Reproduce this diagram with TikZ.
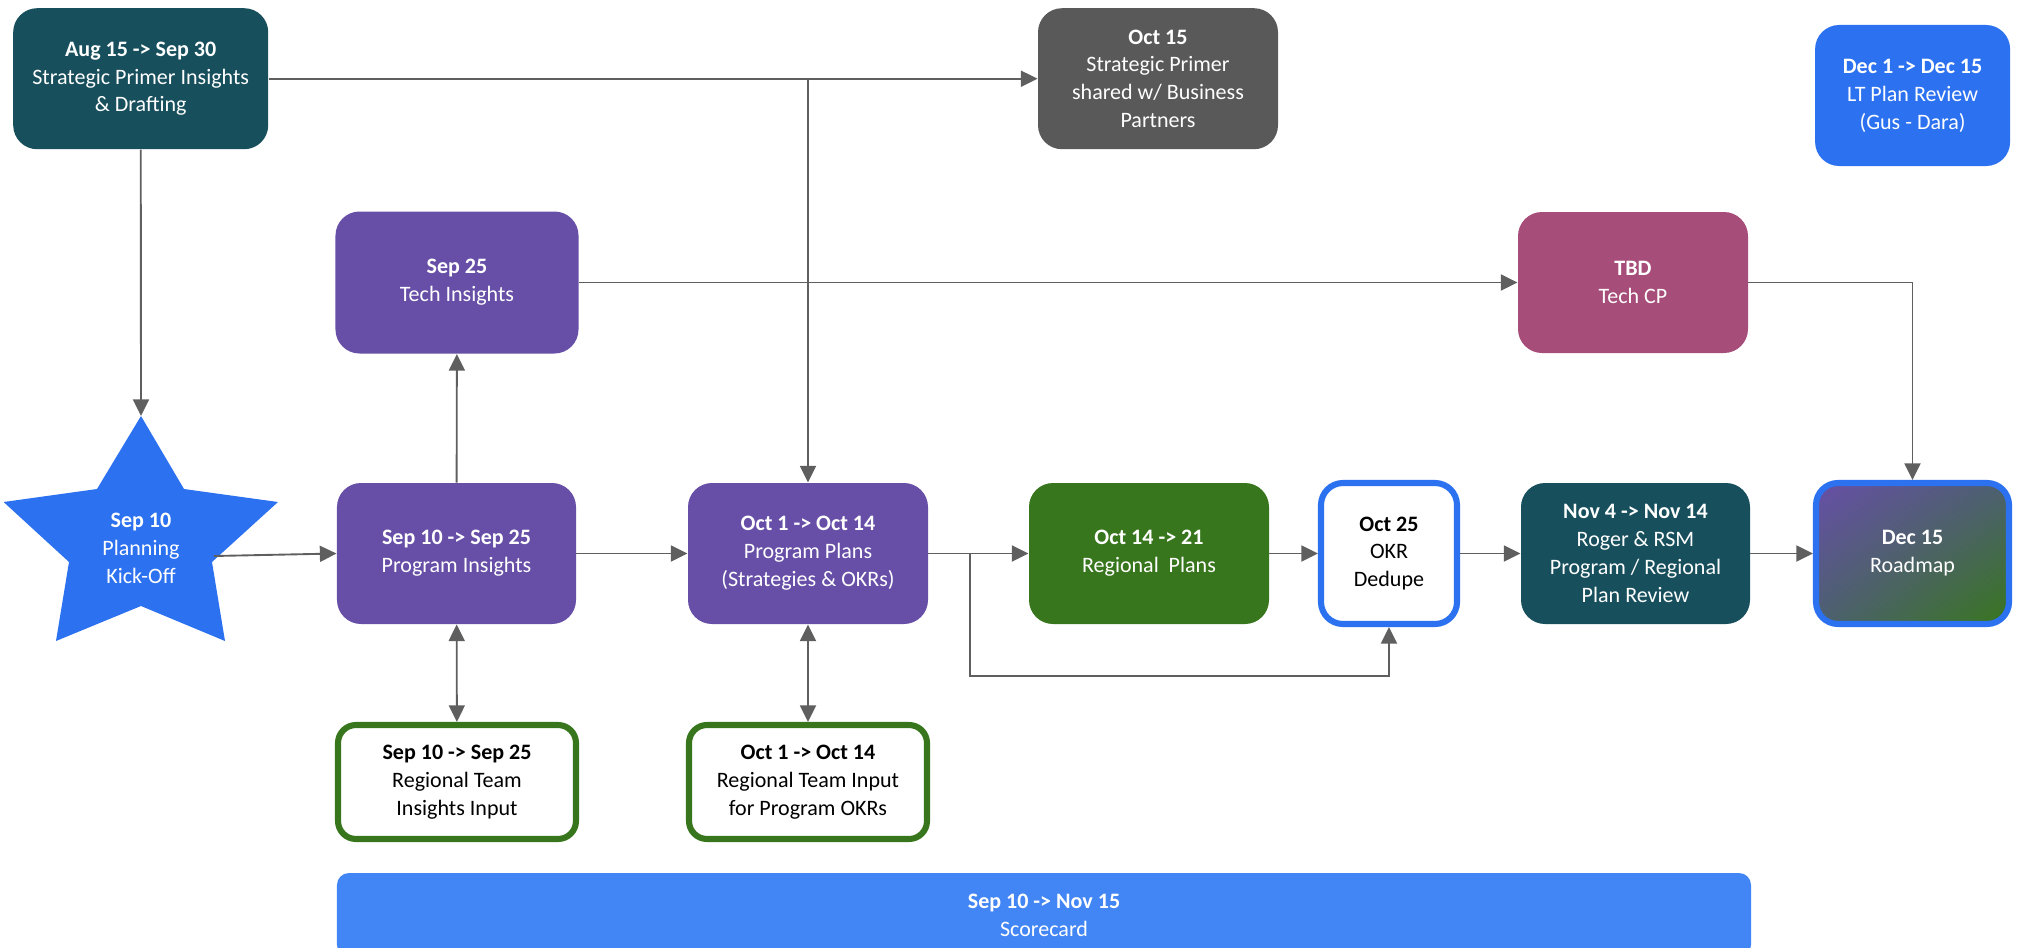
\documentclass[tikz,border=0pt]{standalone}
\usepackage{fontspec}
\setmainfont{Carlito}
\usetikzlibrary{arrows.meta,shadings}

\definecolor{primerteal}{RGB}{23,79,92}
\definecolor{sharegray}{RGB}{89,89,89}
\definecolor{kickblue}{RGB}{44,113,240}
\definecolor{techpurple}{RGB}{103,79,167}
\definecolor{cpmauve}{RGB}{166,77,121}
\definecolor{regiongreen}{RGB}{56,118,29}
\definecolor{scoreblue}{RGB}{66,133,244}
\definecolor{linegray}{RGB}{95,95,95}
\definecolor{roadmid}{RGB}{76,96,112}

\begin{document}
\begin{tikzpicture}[x=0.15mm,y=-0.15mm]
\tikzstyle{stage}=[rectangle,rounded corners=3.6mm,text=white,align=center,inner sep=0pt,font=\fontsize{9.4}{11.9}\selectfont,minimum height=21.15mm]
\tikzstyle{inputbox}=[rectangle,rounded corners=2.7mm,draw=regiongreen,line width=2.6pt,fill=white,text=black,align=center,inner sep=0pt,font=\fontsize{9.4}{11.9}\selectfont,minimum width=35.7mm,minimum height=17.1mm]
\tikzstyle{link}=[draw=linegray,line width=0.8pt,-{Triangle[length=2.5mm,width=2.4mm]}]
\tikzstyle{twoway}=[link,{Triangle[length=2.5mm,width=2.4mm]}-{Triangle[length=2.5mm,width=2.4mm]}]
\useasboundingbox (0,0) rectangle (2023,948);
\clip (0,0) rectangle (2023,948);
% top row
\node[stage,fill=primerteal,minimum width=38.25mm] (aug) at (140.7,78.7) {\textbf{Aug 15 -> Sep 30}\\Strategic Primer Insights\\\& Drafting};
\node[stage,fill=sharegray,minimum width=36mm] (prim) at (1158,78.7) {\textbf{Oct 15}\\Strategic Primer\\shared w/ Business\\Partners};
\node[stage,fill=kickblue,minimum width=29.25mm] (ltrev) at (1912.6,95.5) {\textbf{Dec 1 -> Dec 15}\\LT Plan Review\\(Gus - Dara)};
\node[stage,fill=techpurple,minimum width=36.45mm,minimum height=21.3mm] (tech) at (457,282.5) {\textbf{Sep 25}\\Tech Insights};
\node[stage,fill=cpmauve,minimum width=34.5mm] (tcp) at (1633,282.5) {\textbf{TBD}\\Tech CP};
% kick-off star
\fill[kickblue] (141,416) -- (184,489) -- (278,502) -- (212,562) -- (225,641) -- (141,606) -- (56,641) -- (69,562) -- (3.6,502) -- (97,489) -- cycle;
\node[stage,minimum height=0pt] (kick) at (141,548) {\textbf{Sep 10}\\Planning\\Kick-Off};
\coordinate (kicktop) at (141,416);
\coordinate (kickout) at (214,556);
% main row
\node[stage,fill=techpurple,minimum width=35.85mm] (pins) at (456.5,553.5) {\textbf{Sep 10 -> Sep 25}\\Program Insights};
\node[stage,fill=techpurple,minimum width=36mm] (pplan) at (808,553.5) {\textbf{Oct 1 -> Oct 14}\\Program Plans\\(Strategies \& OKRs)};
\node[stage,fill=regiongreen,minimum width=36mm] (rplan) at (1149,553.5) {\textbf{Oct 14 -> 21}\\Regional\ \ Plans};
\node[stage,fill=white,draw=kickblue,line width=2.6pt,text=black,rounded corners=3.3mm,minimum width=20.4mm] (okr) at (1389,553.5) {\textbf{Oct 25}\\OKR\\Dedupe};
\node[stage,fill=primerteal,minimum width=34.35mm] (nov) at (1635.5,553.5) {\textbf{Nov 4 -> Nov 14}\\Roger \& RSM\\Program / Regional\\Plan Review};
\node[stage,draw=kickblue,line width=2.6pt,rounded corners=3.3mm,minimum width=28.95mm,upper left=techpurple,lower right=regiongreen,upper right=roadmid,lower left=roadmid] (road) at (1912.5,553.5) {\textbf{Dec 15}\\Roadmap};
% regional inputs
\node[inputbox] (rins) at (457,782) {\textbf{Sep 10 -> Sep 25}\\Regional Team\\Insights Input};
\node[inputbox] (rokr) at (808,782) {\textbf{Oct 1 -> Oct 14}\\Regional Team Input\\for Program OKRs};
% scorecard
\node[stage,fill=scoreblue,rounded corners=1.8mm,minimum width=212.1mm,minimum height=12.6mm] (score) at (1044,915) {\textbf{Sep 10 -> Nov 15}\\Scorecard};
% connectors
\coordinate (fork) at (970,553.5);
\coordinate (loop) at (970,676);
\draw[link] (aug) -- (prim);
\draw[link] (pplan |- aug) -- (pplan);
\draw[link] (aug) -- (kicktop);
\draw[link] (kickout) -- (pins.west);
\draw[link] (pins) -- (tech);
\draw[link] (tech) -- (tcp);
\draw[link] (tcp.east) -| (road.north);
\draw[link] (pins) -- (pplan);
\draw[twoway] (pins) -- (rins);
\draw[twoway] (pplan) -- (rokr);
\draw[link] (pplan) -- (rplan);
\draw[link] (fork) -- (loop) -| (okr.south);
\draw[link] (rplan) -- (okr);
\draw[link] (okr) -- (nov);
\draw[link] (nov) -- (road);
\end{tikzpicture}
\end{document}
